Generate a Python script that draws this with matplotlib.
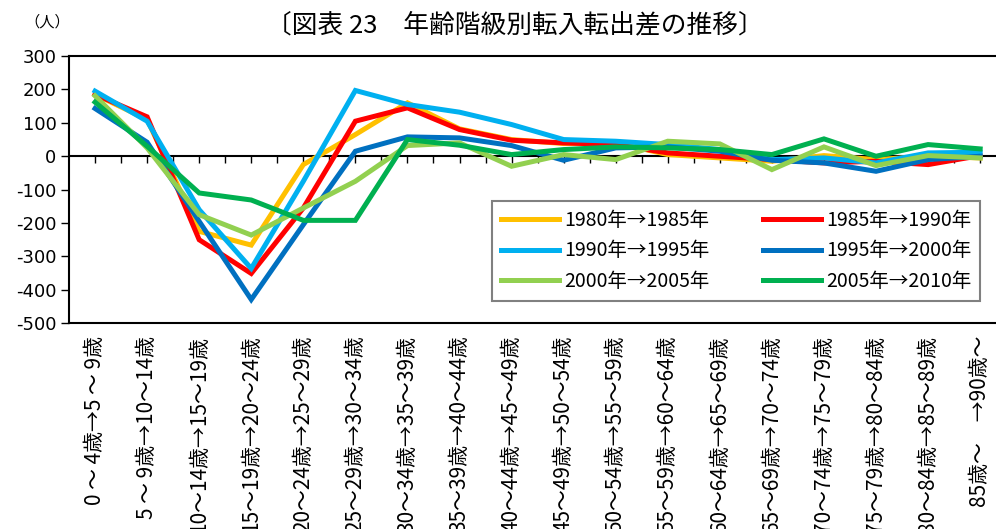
import matplotlib
matplotlib.use("Agg")
import matplotlib.pyplot as plt
import numpy as np

plt.rcParams["font.family"] = ["Noto Sans CJK JP", "DejaVu Sans"]
plt.rcParams["axes.unicode_minus"] = False

# data
categories = [
    "0 ～ 4歳→5 ～ 9歳", "5 ～ 9歳→10～14歳", "10～14歳→15～19歳", "15～19歳→20～24歳",
    "20～24歳→25～29歳", "25～29歳→30～34歳", "30～34歳→35～39歳", "35～39歳→40～44歳",
    "40～44歳→45～49歳", "45～49歳→50～54歳", "50～54歳→55～59歳", "55～59歳→60～64歳",
    "60～64歳→65～69歳", "65～69歳→70～74歳", "70～74歳→75～79歳", "75～79歳→80～84歳",
    "80～84歳→85～89歳", "85歳～　→90歳～",
]
s1980 = [185, 110, -225, -266, -25, 65, 160, 82, 50, 38, 40, 5, -5, -15, 2, -10, 0, -5]
s1985 = [185, 118, -250, -351, -155, 105, 145, 80, 48, 40, 35, 10, 0, -10, -20, -15, -25, 2]
s1990 = [195, 105, -160, -336, -75, 197, 155, 132, 95, 50, 45, 35, 20, -10, -5, -20, 10, 12]
s1995 = [143, 42, -195, -429, -205, 15, 58, 55, 32, -12, 25, 28, 15, -12, -20, -45, -10, 0]
s2000 = [181, 25, -175, -236, -155, -75, 32, 40, -30, 5, -10, 45, 37, -40, 28, -28, 2, -5]
s2005 = [162, 30, -110, -131, -192, -192, 50, 33, 5, 20, 28, 25, 20, 5, 52, 0, 35, 22]

series = [
    ("1980年→1985年", s1980, "#FFC000"),
    ("1985年→1990年", s1985, "#FF0000"),
    ("1990年→1995年", s1990, "#00B0F0"),
    ("1995年→2000年", s1995, "#0070C0"),
    ("2000年→2005年", s2000, "#92D050"),
    ("2005年→2010年", s2005, "#00B050"),
]

fig = plt.figure(figsize=(9.96, 5.29), dpi=100)
ax = fig.add_axes([0.0693, 0.389, 0.931, 0.505])

x = np.arange(len(categories))
lines = {}
for name, vals, col in series:
    lines[name], = ax.plot(x, vals, color=col, lw=3.6, label=name, solid_joinstyle="miter")

ax.set_xlim(-0.5, 17.31)
ax.set_ylim(-500, 300)
ax.set_yticks(np.arange(-500, 301, 100))
ax.tick_params(axis="y", direction="out", length=6, width=1, pad=3)
for t in ax.get_yticklabels():
    t.set_fontfamily(["Liberation Sans Narrow", "DejaVu Sans"])
    t.set_fontsize(13)
ax.set_xticks(x)
ax.set_xticklabels(categories, rotation=90, va="top", ha="center", fontsize=15)
ax.tick_params(axis="x", length=0, pad=9)
for s in ["left", "top", "bottom"]:
    ax.spines[s].set_linewidth(1.5)
ax.spines["right"].set_visible(False)

# zero line with small ticks pointing up
ax.axhline(0, color="black", lw=1.5, zorder=1)
zero = ax.secondary_xaxis(5 / 8)
zero.set_xticks(np.arange(0, 17.6, 0.5))
zero.tick_params(direction="in", length=5, width=1, labelbottom=False, labeltop=False)
zero.spines["bottom"].set_visible(False)
zero.spines["top"].set_visible(False)

order = ["1980年→1985年", "1990年→1995年", "2000年→2005年",
         "1985年→1990年", "1995年→2000年", "2005年→2010年"]
leg = fig.legend([lines[k] for k in order], order, ncol=2, loc="upper left",
                 bbox_to_anchor=(0.494, 0.620, 0.490, 0.0), mode="expand",
                 borderaxespad=0, fontsize=14, handlelength=3.0, handletextpad=0.25,
                 labelspacing=0.5, borderpad=0.45, fancybox=False, framealpha=1)
leg.get_frame().set_edgecolor("#808080")
leg.get_frame().set_linewidth(1.5)

fig.text(0.517, 0.952, "〔図表 23　年齢階級別転入転出差の推移〕", ha="center", va="center", fontsize=18.5)
fig.text(0.047, 0.958, "（人）", ha="center", va="center", fontsize=11)

fig.savefig("out.png", dpi=100)
